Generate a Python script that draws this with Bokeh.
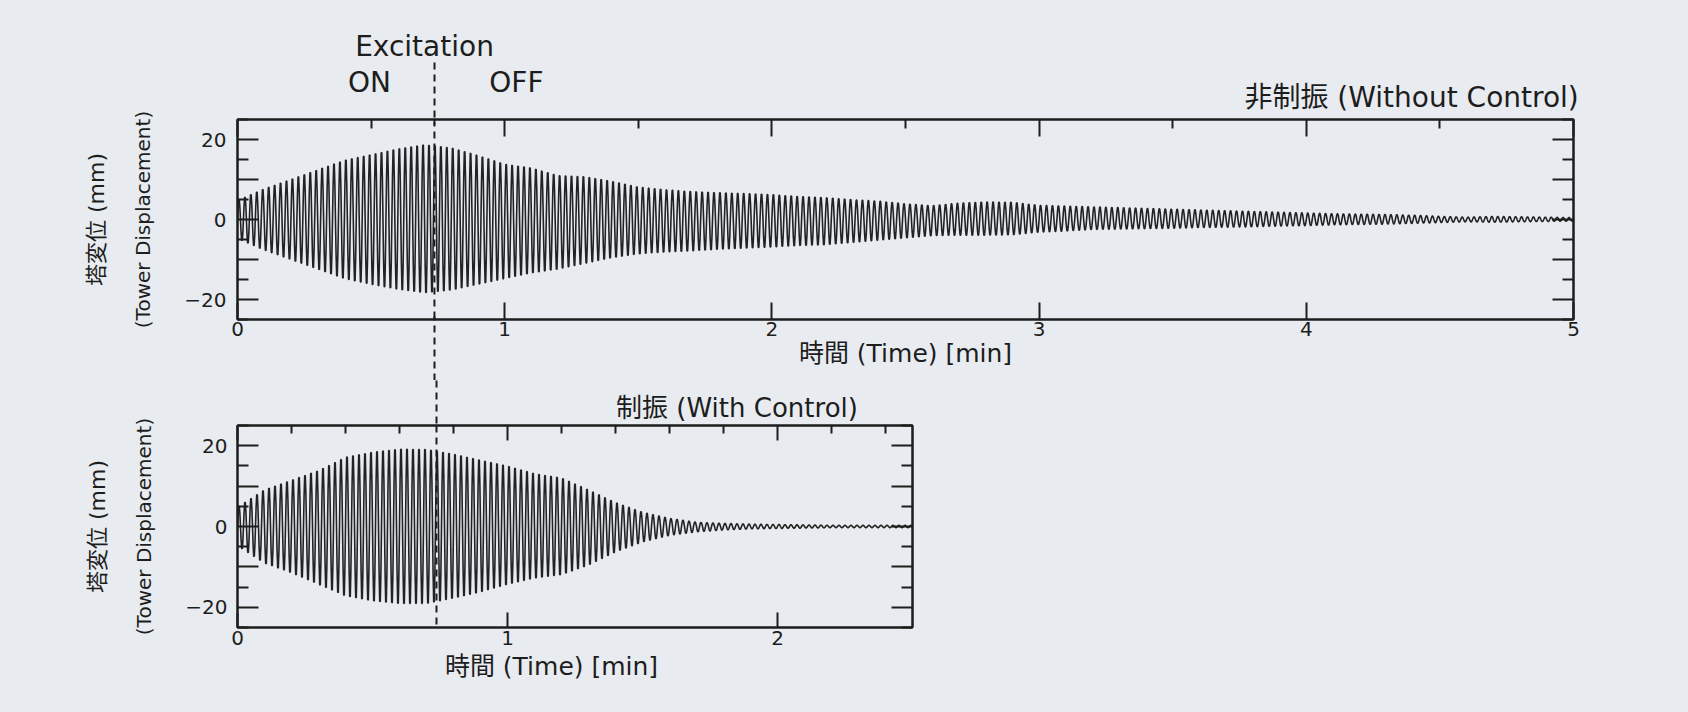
import numpy as np
from bokeh.plotting import figure
from bokeh.models import Range1d, LinearAxis, FixedTicker, Span, ColumnDataSource
from bokeh.layouts import column
from bokeh.embed import file_html
from bokeh.resources import INLINE

# ---------------- data ----------------
excitation_off_min = 0.737         # excitation switched off [min]
cycles_per_min = 45                # tower oscillation rate

# without control (top): envelope of the displacement trace [mm]
top_env_t = [round(0.1 * i, 1) for i in range(51)]
top_env_upper = [5, 8, 10.5, 13, 15.5, 17, 18.5, 19.6, 18.8, 16.8,
                 14.5, 13.5, 11.5, 11.2, 10, 8.5, 7.8, 7.3, 7.0, 6.8,
                 6.5, 6.0, 5.7, 5.2, 4.8, 4.1, 3.6, 4.3, 4.6, 4.5,
                 3.7, 3.5, 3.3, 3.1, 2.9, 2.7, 2.5, 2.3, 2.1, 1.9,
                 1.7, 1.5, 1.4, 1.3, 1.1, 0.8, 0.6, 0.8, 0.7, 0.6, 0.5]
top_env_lower = [5, 8, 10.5, 13, 15.5, 17, 18.3, 19.2, 18.5, 17,
                 15.5, 14, 13, 11.5, 10, 9, 8.5, 8.2, 7.8, 7.5,
                 7.2, 6.8, 6.6, 6.0, 5.4, 4.8, 4.2, 4.1, 4.1, 4.0,
                 3.3, 3.0, 2.6, 2.5, 2.4, 2.3, 2.1, 2.0, 1.9, 1.7,
                 1.6, 1.4, 1.3, 1.2, 1.0, 0.8, 0.6, 0.7, 0.6, 0.5, 0.4]

# with control (bottom)
bot_env_t = [round(0.1 * i, 1) for i in range(26)]
bot_env_upper = [5, 9.5, 12, 14.5, 18, 19.3, 20.1, 20.0, 18.8, 17.2,
                 15.7, 13.7, 12.6, 9.5, 6.2, 3.7, 2.1, 1.1, 0.8, 0.6,
                 0.5, 0.4, 0.3, 0.3, 0.3, 0.3]
bot_env_lower = [5, 9.5, 12, 15, 18, 19.3, 20, 20, 18.6, 17,
                 15, 13.4, 12.5, 10, 6.6, 4.0, 2.3, 1.4, 0.9, 0.6,
                 0.5, 0.4, 0.3, 0.3, 0.3, 0.3]

top_x_ticks = [0, 1, 2, 3, 4, 5]
top_x_minor = [0.5, 1.5, 2.5, 3.5, 4.5]
bot_x_ticks = [0, 1, 2]
bot_x_minor = [0.2, 0.4, 0.6, 0.8, 1.2, 1.4, 1.6, 1.8, 2.2, 2.4]
y_ticks = [-20, -10, 0, 10, 20]
y_minor = [-25, -15, -5, 5, 15, 25]
y_tick_labels = {20: "20", 10: "", 0: "0", -10: "", -20: "\u221220"}

# texts around the charts, placed at their time position [min]
excitation_text = {0.70: "Excitation"}
onoff_text = {0.494: "ON", 1.044: "OFF"}
top_title = {4.394: "非制振 (Without Control)"}
bottom_title = {1.85: "制振 (With Control)"}
bottom_x_title = {1.163: "時間 (Time) [min]"}
x_title = "時間 (Time) [min]"
y_title_jp = "塔変位 (mm)"
y_title_en = "(Tower Displacement)"

# ---------------- styling ----------------
INK = "#1d1d1d"
BG = "#e8ecf0"
FONT = "DejaVu Sans"
MIXED = "DejaVu Sans, Noto Sans CJK JP"
DASH = "7 5"


def trace(env_t, upper, lower, t_end):
    t = np.linspace(0, t_end, int(t_end * cycles_per_min * 10) + 1)
    s = np.sin(2 * np.pi * cycles_per_min * t)
    up = np.interp(t, env_t, upper)
    lo = np.interp(t, env_t, lower)
    y = np.where(s >= 0, s * up, s * lo)
    return ColumnDataSource(dict(t=t, y=y))


def style_axis(ax, ticks, minor, major_in, minor_in, labels=None, standoff=3):
    ax.ticker = FixedTicker(ticks=ticks, minor_ticks=minor)
    ax.major_tick_in = major_in
    ax.major_tick_out = 0
    ax.minor_tick_in = minor_in
    ax.minor_tick_out = 0
    ax.axis_line_color = INK
    ax.axis_line_width = 2
    ax.major_tick_line_color = INK
    ax.major_tick_line_width = 2
    ax.minor_tick_line_color = INK
    ax.minor_tick_line_width = 2
    ax.major_label_text_font = FONT
    ax.major_label_text_color = INK
    ax.major_label_standoff = standoff
    ax.axis_label_text_font_style = "normal"
    ax.axis_label_text_color = INK
    if labels is None:
        ax.major_label_overrides = {k: "" for k in ticks}
        ax.major_label_text_font_size = "0px"
        ax.major_label_standoff = 0
    else:
        ax.major_label_overrides = labels
        ax.major_label_text_font_size = "20px"


def bare_axis(p, side, ticks):
    ax = LinearAxis()
    p.add_layout(ax, side)
    ax.ticker = FixedTicker(ticks=ticks, minor_ticks=[])
    ax.axis_line_color = None
    ax.major_tick_line_color = None
    ax.minor_tick_line_color = None
    ax.major_tick_in = 0
    ax.major_tick_out = 0
    ax.minor_tick_in = 0
    ax.minor_tick_out = 0
    ax.major_label_text_font_size = "0px"
    ax.major_label_standoff = 0
    return ax


def text_axis(p, side, labels, size, standoff, font=MIXED):
    """axis without line or ticks that only carries text at given positions"""
    ax = bare_axis(p, side, list(labels.keys()))
    ax.major_label_overrides = labels
    ax.major_label_text_font = font
    ax.major_label_text_font_size = f"{size}px"
    ax.major_label_text_color = INK
    ax.major_label_standoff = standoff
    return ax


def dash_axis(p, side, length_in, length_out=0):
    """axis whose only mark is the dashed excitation-off marker outside the frame"""
    ax = bare_axis(p, side, [excitation_off_min])
    ax.major_label_overrides = {excitation_off_min: ""}
    ax.major_tick_line_color = INK
    ax.major_tick_line_width = 2
    ax.major_tick_line_dash = DASH
    ax.major_tick_in = length_in
    ax.major_tick_out = length_out
    return ax


def make_fig(width, height, x_end, left, right, top, bottom):
    p = figure(width=width, height=height, title=None,
               x_range=Range1d(0, x_end), y_range=Range1d(-25, 25),
               output_backend="svg", toolbar_location=None,
               min_border_left=left, min_border_right=right,
               min_border_top=top, min_border_bottom=bottom)
    p.background_fill_color = BG
    p.border_fill_color = BG
    p.outline_line_color = INK
    p.outline_line_width = 2
    p.xgrid.visible = False
    p.ygrid.visible = False
    return p


def add_y_titles(p):
    ax = p.yaxis[0]
    ax.axis_label = y_title_en
    ax.axis_label_text_font = FONT
    ax.axis_label_text_font_size = "20px"
    ax.axis_label_standoff = 26
    outer = bare_axis(p, "left", [])
    outer.axis_label = y_title_jp
    outer.axis_label_text_font = MIXED
    outer.axis_label_text_font_size = "22px"
    outer.axis_label_text_font_style = "normal"
    outer.axis_label_text_color = INK
    outer.axis_label_standoff = 20


TRACE_COLOR = "#222222"

# ---------------- top: without control ----------------
p1 = make_fig(1688, 380, 5, 237, 115, 119, 58)
p1.line("t", "y", source=trace(top_env_t, top_env_upper, top_env_lower, 5),
        line_color=TRACE_COLOR, line_width=1.6)

xa = p1.xaxis[0]
style_axis(xa, top_x_ticks, [], 17, 0,
           labels={k: str(k) for k in top_x_ticks}, standoff=2)
xa.axis_label = x_title
xa.axis_label_text_font = MIXED
xa.axis_label_text_font_size = "25px"
xa.axis_label_standoff = 0
dash_axis(p1, "below", 54, 10)

style_axis(p1.yaxis[0], y_ticks, y_minor, 21, 11, labels=y_tick_labels, standoff=11)
add_y_titles(p1)

ax_top = LinearAxis()
p1.add_layout(ax_top, "above")
style_axis(ax_top, top_x_ticks, top_x_minor, 17, 9)
text_axis(p1, "above", top_title, 28, 6)
text_axis(p1, "above", onoff_text, 28, -21, font=FONT)
dash_axis(p1, "above", 62)
text_axis(p1, "above", excitation_text, 28, 0, font=FONT)

ax_right = LinearAxis()
p1.add_layout(ax_right, "right")
style_axis(ax_right, y_ticks, y_minor, 21, 11)

p1.add_layout(Span(location=excitation_off_min, dimension="height",
                   line_color=INK, line_width=2, line_dash=DASH))

# ---------------- bottom: with control ----------------
p2 = make_fig(1027, 332, 2.5, 237, 115, 43, 85)
p2.line("t", "y", source=trace(bot_env_t, bot_env_upper, bot_env_lower, 2.5),
        line_color=TRACE_COLOR, line_width=1.6)

xb = p2.xaxis[0]
style_axis(xb, bot_x_ticks, [], 15, 0,
           labels={k: str(k) for k in bot_x_ticks}, standoff=3)
text_axis(p2, "below", bottom_x_title, 25, 4)

style_axis(p2.yaxis[0], y_ticks, y_minor, 21, 11, labels=y_tick_labels, standoff=10)
add_y_titles(p2)

ax_top2 = LinearAxis()
p2.add_layout(ax_top2, "above")
style_axis(ax_top2, bot_x_ticks, bot_x_minor, 15, 8)
text_axis(p2, "above", bottom_title, 26, 3)
dash_axis(p2, "above", 38, 9)

ax_right2 = LinearAxis()
p2.add_layout(ax_right2, "right")
style_axis(ax_right2, y_ticks, y_minor, 21, 11)

p2.add_layout(Span(location=excitation_off_min, dimension="height",
                   line_color=INK, line_width=2, line_dash=DASH))

layout = column(p1, p2, spacing=0)
layout.styles = {"background-color": BG}
open("out.html", "w").write(file_html(layout, INLINE))
